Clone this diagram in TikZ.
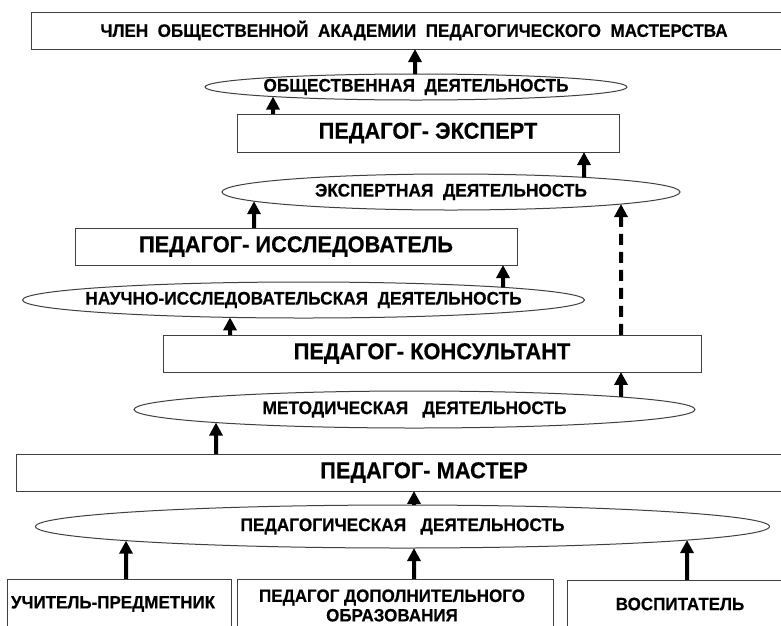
\documentclass[tikz,border=0pt]{standalone}
\usepackage{fontspec}
\setmainfont{Liberation Sans}[FakeStretch=0.95, BoldFeatures={FakeBold=0.4}]
\usetikzlibrary{shapes.geometric,arrows.meta,intersections}
\tikzset{
  box/.style={draw=black!75, line width=1pt, fill=white, rectangle, inner sep=0pt},
  oval/.style={draw=black!75, line width=1pt, fill=white, ellipse, inner sep=0pt},
  arr/.style={line width=4pt, -{Triangle[width=13pt,length=13pt]}},
  dsh/.style={dash pattern=on 11pt off 7pt},
  bigtxt/.style={font=\bfseries\fontsize{23}{26}\selectfont},
  midtxt/.style={font=\bfseries\fontsize{18.2}{20}\selectfont},
  bottxt/.style={font=\bfseries\fontsize{17.9}{19.5}\selectfont},
  toptxt/.style={font=\bfseries\fontsize{18}{20}\selectfont},
  lbl/.style={inner sep=0pt, align=center},
}
\newcommand\conn[4][]{%
  \path[name path=vline] (#2,-10) -- (#2,700);
  \path[name intersections={of=vline and #3, name=lo, sort by=vline}];
  \path[name intersections={of=vline and #4, name=hi, sort by=vline}];
  \draw[arr,#1] (lo-1) -- (hi-2);
}
\begin{document}
\begin{tikzpicture}[x=1pt,y=-1pt]
\clip (0,0) rectangle (781,625);
\fill[white] (0,0) rectangle (781,625);

% boxes
\node[box, toptxt, minimum width=766, minimum height=37, name path=B0] (B0) at (414,30.5)
  {ЧЛЕН\ \ ОБЩЕСТВЕННОЙ\ \ АКАДЕМИИ\ \ ПЕДАГОГИЧЕСКОГО\ \ МАСТЕРСТВА};
\node[box, bigtxt, minimum width=382, minimum height=38, name path=B1] (B1) at (428,133) {ПЕДАГОГ- ЭКСПЕРТ};
\node[box, bigtxt, minimum width=442, minimum height=37, name path=B2] (B2) at (296,246.5) {ПЕДАГОГ- ИССЛЕДОВАТЕЛЬ};
\node[box, bigtxt, minimum width=538, minimum height=37, name path=B3] (B3) at (432,353.5) {ПЕДАГОГ- КОНСУЛЬТАНТ};
\node[box, bigtxt, minimum width=816, minimum height=37, name path=B4] (B4) at (424,472.5) {ПЕДАГОГ- МАСТЕР};

% ellipses
\node[oval, midtxt, minimum width=422, minimum height=26, name path=E1] (E1) at (416,87)
  {\makebox[0pt]{ОБЩЕСТВЕННАЯ\ \ ДЕЯТЕЛЬНОСТЬ}};
\node[oval, midtxt, minimum width=458, minimum height=36, name path=E2] (E2) at (451,192)
  {\makebox[0pt]{ЭКСПЕРТНАЯ\ \ ДЕЯТЕЛЬНОСТЬ}};
\node[oval, midtxt, minimum width=562, minimum height=36, name path=E3] (E3) at (303.5,300)
  {\makebox[0pt]{НАУЧНО-ИССЛЕДОВАТЕЛЬСКАЯ\ \ ДЕЯТЕЛЬНОСТЬ}};
\node[oval, midtxt, minimum width=561, minimum height=37, name path=E4] (E4) at (414.5,409.5)
  {\makebox[0pt]{МЕТОДИЧЕСКАЯ\ \ \ ДЕЯТЕЛЬНОСТЬ}};
\node[oval, midtxt, minimum width=734, minimum height=43, name path=E5] (E5) at (402.5,526.5)
  {\makebox[0pt]{ПЕДАГОГИЧЕСКАЯ\ \ \ ДЕЯТЕЛЬНОСТЬ}};

% bottom boxes
\node[box, minimum width=224, minimum height=80, name path=L] (L) at (119,619) {};
\node[box, minimum width=316, minimum height=80, name path=M] (M) at (395,619) {};
\node[box, minimum width=226, minimum height=80, name path=R] (R) at (680,620) {};
\node[lbl, bottxt] (Lt) at (113,604) {УЧИТЕЛЬ-ПРЕДМЕТНИК};
\node[lbl, bottxt] (Mt) at (392,605.5) {ПЕДАГОГ ДОПОЛНИТЕЛЬНОГО\\ОБРАЗОВАНИЯ};
\node[lbl, bottxt] (Rt) at (680,604) {ВОСПИТАТЕЛЬ};

% connectors
\conn{415}{E1}{B0}
\conn{273}{B1}{E1}
\conn{584}{E2}{B1}
\conn{254}{B2}{E2}
\conn{503}{E3}{B2}
\conn{230}{B3}{E3}
\conn[dsh]{621}{B3}{E2}
\conn{621}{E4}{B3}
\conn{216}{B4}{E4}
\conn{414}{E5}{B4}
\conn{126}{L}{E5}
\conn{414}{M}{E5}
\conn{687}{R}{E5}
\end{tikzpicture}
\end{document}
